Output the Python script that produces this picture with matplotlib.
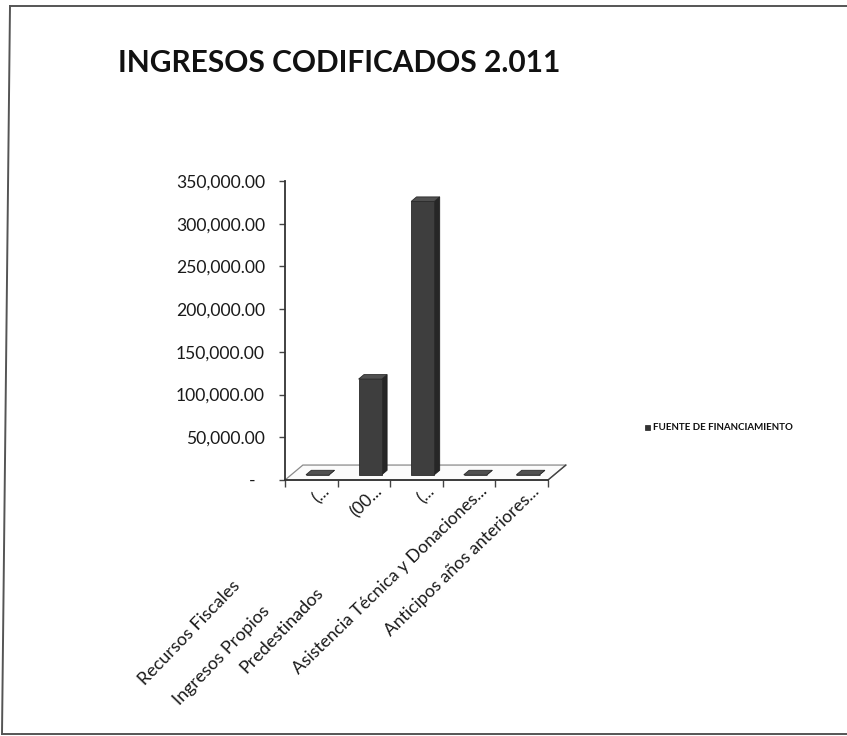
import matplotlib.pyplot as plt
import matplotlib.transforms as mtransforms
from matplotlib.patches import Polygon, Rectangle
from matplotlib.ticker import FuncFormatter

plt.rcParams['font.family'] = ['Lato', 'DejaVu Sans']

# ingresos codificados por fuente de financiamiento
fuentes = ['Recursos Fiscales', 'Ingresos Propios', 'Predestinados',
           'Asistencia Técnica y Donaciones...', 'Anticipos años anteriores...']
codigos = ['(...', '(00...', '(...', '', '']
montos = [0, 112000, 320000, 0, 0]
serie = 'FUENTE DE FINANCIAMIENTO'
titulo = 'INGRESOS CODIFICADOS 2.011'

W, H = 847, 736
fig = plt.figure(figsize=(W / 100, H / 100), dpi=100)
fig.patch.set_facecolor('white')

# marco del grafico
for xs, ys in [([2, 847], [734, 734]), ([10, 2], [6, 734]), ([10, 847], [6, 6])]:
    fig.add_artist(plt.Line2D([x / W for x in xs], [1 - y / H for y in ys],
                              color='#555555', lw=1.4, ls='-'))

ax = fig.add_axes([285 / W, (H - 480) / H, (548 - 285) / W, (480 - 181) / H])
ax.set_xlim(0, len(fuentes))
ax.set_ylim(0, 350000)
ax.patch.set_visible(False)
for s in ['top', 'right']:
    ax.spines[s].set_visible(False)
ax.spines['left'].set_color('#333333')
ax.spines['bottom'].set_color('#333333')
ax.spines['left'].set_linewidth(1.3)
ax.spines['bottom'].set_linewidth(1.3)

ax.set_yticks(range(0, 350001, 50000))
ax.yaxis.set_major_formatter(FuncFormatter(
    lambda v, p: '-  ' if v == 0 else '{:,.2f}'.format(v)))
ax.tick_params(axis='y', length=4, width=1, color='#444444', pad=10.5,
               labelsize=12.6, labelcolor='#1a1a1a')
ax.set_xticks(range(0, len(fuentes) + 1))
ax.set_xticklabels([])
ax.tick_params(axis='x', length=5, width=1, color='#444444')

# profundidad del piso en unidades de datos
ddx = 0.34
ddy = 17500

piso = Polygon([(0, 0), (len(fuentes), 0), (len(fuentes) + ddx, ddy), (ddx, ddy)],
               closed=True, facecolor='#fbfbfb', edgecolor='#8a8a8a', lw=0.9,
               clip_on=False, zorder=1)
ax.add_patch(piso)
ax.plot([len(fuentes), len(fuentes) + ddx], [0, ddy], color='#444444', lw=1,
        clip_on=False, zorder=2)

ancho = 0.44
fx, fy = 0.35 * ddx, 0.35 * ddy
bx, by = 0.3 * ddx, 0.3 * ddy
for i, v in enumerate(montos):
    x0 = i + 0.5 - ancho / 2 + fx
    y0 = fy
    lado = Polygon([(x0 + ancho, y0), (x0 + ancho + bx, y0 + by),
                    (x0 + ancho + bx, y0 + by + v), (x0 + ancho, y0 + v)],
                   closed=True, facecolor='#262626', edgecolor='#1e1e1e',
                   lw=0.6, clip_on=False, zorder=3)
    frente = Rectangle((x0, y0), ancho, v, facecolor='#3e3e3e',
                       edgecolor='#2a2a2a', lw=0.6, clip_on=False, zorder=4)
    tapa = Polygon([(x0, y0 + v), (x0 + ancho, y0 + v),
                    (x0 + ancho + bx, y0 + v + by), (x0 + bx, y0 + v + by)],
                   closed=True, facecolor='#505050', edgecolor='#2a2a2a',
                   lw=0.6, clip_on=False, zorder=5)
    ax.add_patch(lado)
    ax.add_patch(frente)
    ax.add_patch(tapa)

# etiquetas de categoria (nivel interno)
desp = mtransforms.ScaledTranslation(10 / 100, -3 / 100, fig.dpi_scale_trans)
internas = codigos[:3] + fuentes[3:]
for i, txt in enumerate(internas):
    ax.text(i + 0.5, 0, txt, transform=ax.get_xaxis_transform() + desp,
            rotation=44, rotation_mode='anchor', ha='right', va='top',
            fontsize=12.6, color='#1a1a1a')

# etiquetas de categoria (nivel externo)
externas_pos = [(232, 578), (261, 603), (315, 584)]
for txt, (px, py) in zip(fuentes[:3], externas_pos):
    fig.text(px / W, 1 - py / H, txt, rotation=46, rotation_mode='anchor',
             ha='right', va='top', fontsize=13, color='#1a1a1a')

fig.text(118 / W, 1 - 72 / H, titulo, fontsize=21.5, fontweight='bold',
         color='#111111', va='baseline', ha='left')

# leyenda
fig.add_artist(Rectangle((645 / W, 1 - 430 / H), 5 / W, 5 / H,
                         transform=fig.transFigure, facecolor='#333333',
                         edgecolor='#222222', lw=0.5))
fig.text(653 / W, 1 - 427.5 / H, serie, fontsize=7, fontweight='bold',
         color='#111111', va='center', ha='left')

fig.savefig('out.png', dpi=100)
